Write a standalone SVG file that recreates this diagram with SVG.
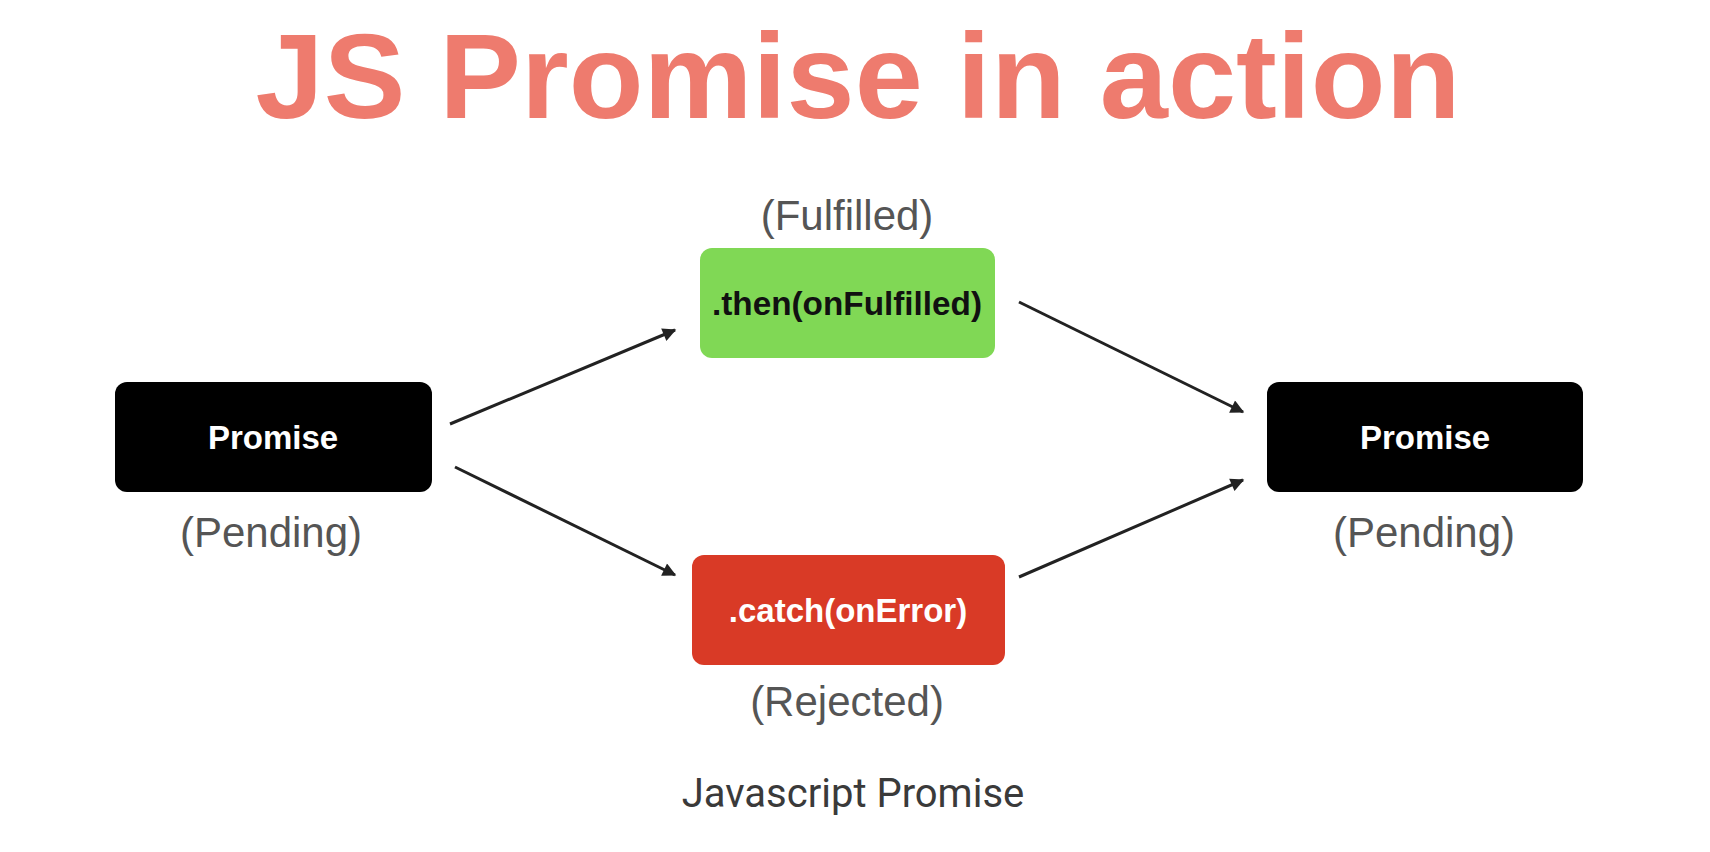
<svg xmlns="http://www.w3.org/2000/svg" width="1710" height="852" viewBox="0 0 1710 852">
<defs>
<style>
.box{stroke:none}
.lbl{font-family:"Liberation Sans",Arial,sans-serif;font-weight:bold;font-size:33px;text-anchor:middle}
.state{font-family:"Liberation Sans",Arial,sans-serif;font-size:42px;fill:#555555;text-anchor:middle}
.conn{stroke:#222222;stroke-width:3;fill:none;marker-end:url(#ah)}
</style>
<marker id="ah" viewBox="0 0 10 10" refX="9" refY="5" markerWidth="5" markerHeight="4.5" orient="auto" markerUnits="strokeWidth">
<path d="M0,0 L10,5 L0,10 z" fill="#222222"/>
</marker>
</defs>
<rect width="1710" height="852" fill="#ffffff"/>
<text x="858" y="118" font-family="'Liberation Sans',Arial,sans-serif" font-weight="bold" font-size="120" fill="#EE7B6E" text-anchor="middle" textLength="1205" lengthAdjust="spacingAndGlyphs">JS Promise in action</text>
<g id="connectors">
<line class="conn" x1="450" y1="424" x2="675" y2="330"/>
<line class="conn" x1="1019" y1="302" x2="1243" y2="412"/>
<line class="conn" x1="455" y1="467" x2="675" y2="575"/>
<line class="conn" x1="1019" y1="577" x2="1243" y2="480"/>
</g>
<g id="promise-left">
<rect class="box" x="115" y="382" width="317" height="110" rx="12" fill="#000000"/>
<text class="lbl" x="273" y="449" fill="#ffffff">Promise</text>
<text class="state" x="271" y="547">(Pending)</text>
</g>
<g id="then">
<text class="state" x="847" y="230">(Fulfilled)</text>
<rect class="box" x="700" y="248" width="295" height="110" rx="12" fill="#80D855"/>
<text class="lbl" x="847" y="315" fill="#111111" textLength="270" lengthAdjust="spacingAndGlyphs">.then(onFulfilled)</text>
</g>
<g id="catch">
<rect class="box" x="692" y="555" width="313" height="110" rx="12" fill="#D93A26"/>
<text class="lbl" x="848" y="622" fill="#ffffff">.catch(onError)</text>
<text class="state" x="847" y="716">(Rejected)</text>
</g>
<g id="promise-right">
<rect class="box" x="1267" y="382" width="316" height="110" rx="12" fill="#000000"/>
<text class="lbl" x="1425" y="449" fill="#ffffff">Promise</text>
<text class="state" x="1424" y="547">(Pending)</text>
</g>
<text x="853" y="807" font-family="Roboto,'Liberation Sans',sans-serif" font-size="40" fill="#3a3a3a" text-anchor="middle">Javascript Promise</text>
</svg>
